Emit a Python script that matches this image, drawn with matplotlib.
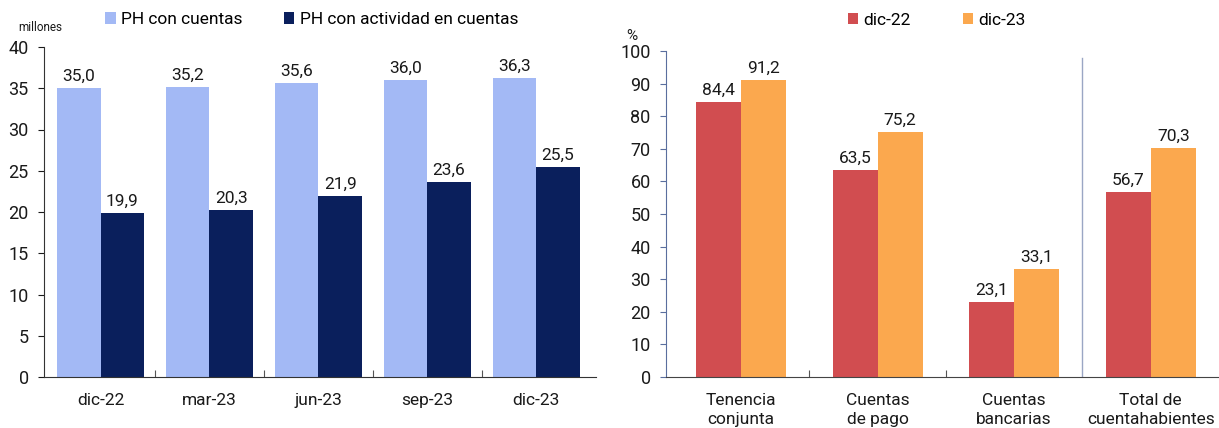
import matplotlib.pyplot as plt
import numpy as np

plt.rcParams['font.family'] = ['Roboto', 'DejaVu Sans']

# datos panel izquierdo (millones)
periodos = ['dic-22', 'mar-23', 'jun-23', 'sep-23', 'dic-23']
ph_cuentas = [35.0, 35.2, 35.6, 36.0, 36.3]
ph_actividad = [19.9, 20.3, 21.9, 23.6, 25.5]

# datos panel derecho (%)
tipos = ['Tenencia\nconjunta', 'Cuentas\nde pago', 'Cuentas\nbancarias', 'Total de\ncuentahabientes']
dic22 = [84.4, 63.5, 23.1, 56.7]
dic23 = [91.2, 75.2, 33.1, 70.3]

W, H = 1219, 428
fig = plt.figure(figsize=(W / 100, H / 100), dpi=100)

def fmt(v):
    return f'{v:.1f}'.replace('.', ',')

txt = '#1a1a1a'
fs = 12.5

# ---- panel izquierdo
ax1 = fig.add_axes([44 / W, (H - 377) / H, 552 / W, (377 - 47) / H])
x = np.arange(len(periodos))
w = 0.4
b1 = ax1.bar(x - w / 2, ph_cuentas, w, color='#A3B9F5', label='PH con cuentas')
b2 = ax1.bar(x + w / 2, ph_actividad, w, color='#0A1F5C', label='PH con actividad en cuentas')
for bars, vals in [(b1, ph_cuentas), (b2, ph_actividad)]:
    for r, v in zip(bars, vals):
        ax1.annotate(fmt(v), (r.get_x() + r.get_width() / 2, v), xytext=(0, 3),
                     textcoords='offset points', ha='center', va='bottom', fontsize=fs, color=txt)
ax1.set_xlim(-0.52, 4.55)
ax1.set_ylim(0, 40)
ax1.set_yticks(range(0, 41, 5))
ax1.set_xticks(np.arange(0.5, 4.5, 1))
ax1.set_xticklabels([])
ax1.tick_params(axis='x', direction='in', length=5, color='#555555')
ax1.tick_params(axis='y', direction='out', length=4, labelsize=13, colors=txt, pad=7)
for s in ['top', 'right']:
    ax1.spines[s].set_visible(False)
for s in ['left', 'bottom']:
    ax1.spines[s].set_color('#333333')
for i, p in enumerate(periodos):
    ax1.text(i, -2.8, p, ha='center', va='center', fontsize=fs, color=txt)
ax1.text(-0.55, 42.4, 'millones', ha='center', va='center', fontsize=8.5, color=txt)
ax1.legend(loc='center', bbox_to_anchor=(0.485, 1.083), ncol=2, frameon=False, fontsize=fs,
           handlelength=0.6, handleheight=0.6, handletextpad=0.3, columnspacing=2.4)

# ---- panel derecho
ax2 = fig.add_axes([666 / W, (H - 377) / H, 553 / W, (377 - 51) / H])
x2 = np.arange(len(tipos))
w2 = 0.33
c1 = ax2.bar(x2 - w2 / 2, dic22, w2, color='#D14D50', label='dic-22')
c2 = ax2.bar(x2 + w2 / 2, dic23, w2, color='#FBA84E', label='dic-23')
for bars, vals in [(c1, dic22), (c2, dic23)]:
    for r, v in zip(bars, vals):
        ax2.annotate(fmt(v), (r.get_x() + r.get_width() / 2, v), xytext=(0, 3),
                     textcoords='offset points', ha='center', va='bottom', fontsize=fs, color=txt)
ax2.set_xlim(-0.55, 3.5)
ax2.set_ylim(0, 100)
ax2.set_yticks(range(0, 101, 10))
ax2.set_xticks([0.5, 1.5])
ax2.set_xticklabels([])
ax2.tick_params(axis='x', direction='in', length=5, color='#555555')
ax2.tick_params(axis='y', direction='out', length=4, labelsize=13, colors=txt, pad=7)
ax2.tick_params(axis='y', color='#5A6E9E')
for s in ['top', 'right']:
    ax2.spines[s].set_visible(False)
ax2.spines['left'].set_color('#5A6E9E')
ax2.spines['bottom'].set_color('#444444')
ax2.plot([2.5, 2.5], [0, 98], color='#9AA6C4', lw=1)
for i, t in enumerate(tipos):
    ax2.text(i, -4.9, t, ha='center', va='top', fontsize=fs, color=txt, linespacing=1.3)
ax2.text(-0.8, 104.5, '%', ha='center', va='center', fontsize=11, color=txt)
ax2.legend(loc='center', bbox_to_anchor=(0.49, 1.095), ncol=2, frameon=False, fontsize=fs,
           handlelength=0.6, handleheight=0.6, handletextpad=0.3, columnspacing=3.0)

fig.savefig('out.png', dpi=100)
